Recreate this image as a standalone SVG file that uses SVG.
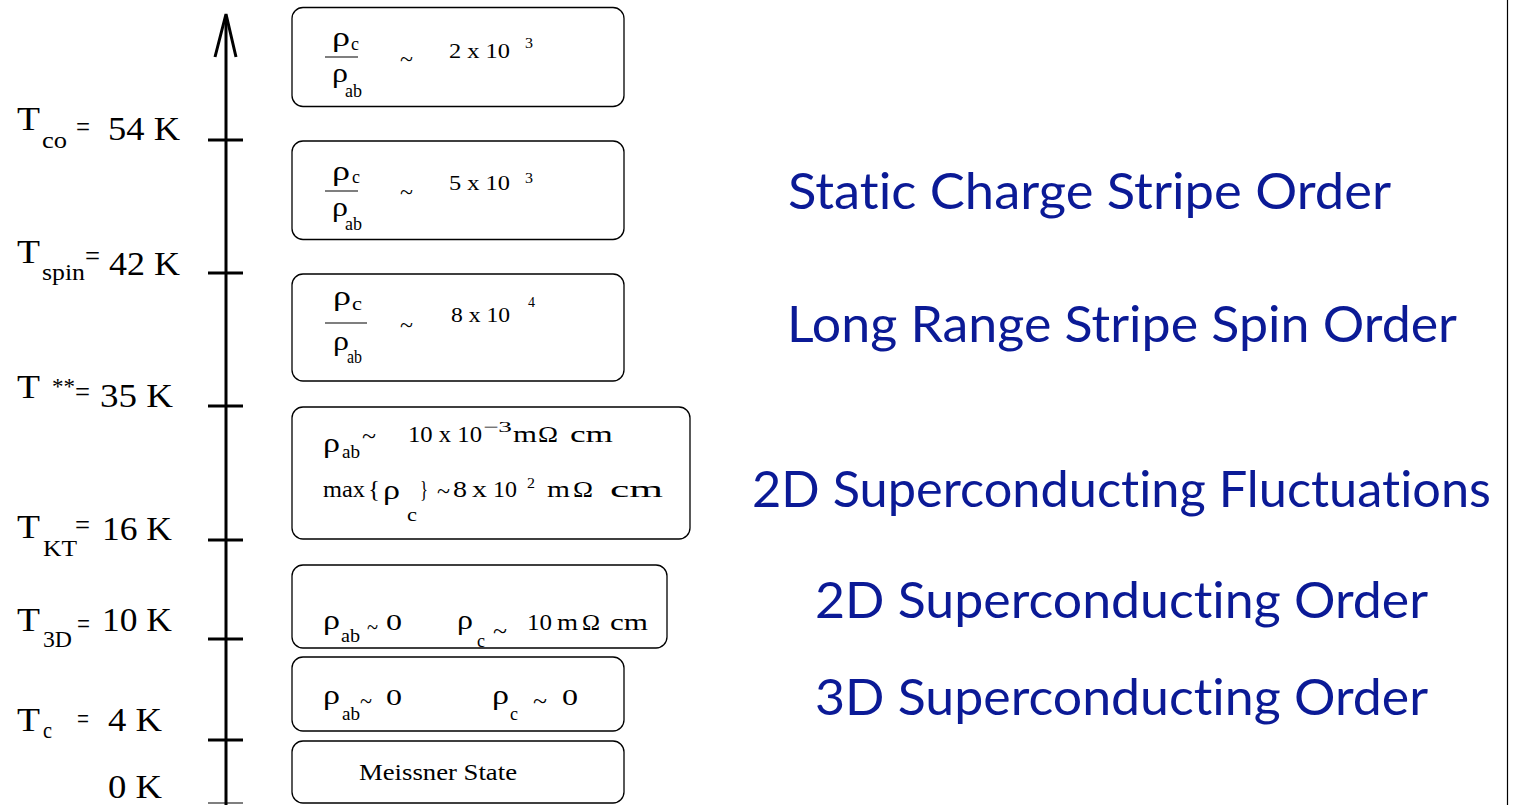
<svg xmlns="http://www.w3.org/2000/svg" width="1516" height="805" viewBox="0 0 1516 805">
<style>
text{font-family:"Liberation Serif","Times New Roman",serif;fill:#000}
.lab{font-size:34px}
.sub{font-size:24px}
.eq{font-size:30px}
.bx{font-size:21px}
.bl{font-size:24px}
.bs{font-size:19px}
.sp{font-size:15px}
.rho{font-size:27px}
.box{fill:#fff;stroke:#000;stroke-width:1.3}
.blue{font-family:"Lato","Open Sans",sans-serif;font-size:50px;fill:#0b1a96;font-variant-ligatures:none;font-feature-settings:"liga" 0}
</style>
<rect width="1516" height="805" fill="#fff"/>
<g id="axis" stroke="#000" fill="none">
  <line x1="226" y1="16" x2="226" y2="805" stroke-width="3"/>
  <polyline points="215,57 226,14 236,57" stroke-width="3"/>
  <g stroke-width="3">
    <line x1="208" y1="140" x2="243" y2="140"/>
    <line x1="208" y1="273" x2="243" y2="273"/>
    <line x1="208" y1="406" x2="243" y2="406"/>
    <line x1="208" y1="540" x2="243" y2="540"/>
    <line x1="208" y1="639" x2="243" y2="639"/>
    <line x1="208" y1="740" x2="243" y2="740"/>
  </g>
  <line x1="208" y1="803" x2="243" y2="803" stroke-width="1.2"/>
  <line x1="1507.5" y1="0" x2="1507.5" y2="805" stroke-width="1.2"/>
</g>
<g id="labels">
  <g id="t-co"><text class="lab" x="17" y="130" textLength="23" lengthAdjust="spacingAndGlyphs">T</text><text class="sub" x="42" y="148" textLength="25" lengthAdjust="spacingAndGlyphs">co</text><text class="eq" x="76" y="137" textLength="14" lengthAdjust="spacingAndGlyphs">=</text><text class="lab" x="108" y="140" textLength="72" lengthAdjust="spacingAndGlyphs">54 K</text></g>
  <g id="t-spin"><text class="lab" x="17" y="263" textLength="23" lengthAdjust="spacingAndGlyphs">T</text><text class="sub" x="42" y="280" textLength="43" lengthAdjust="spacingAndGlyphs">spin</text><text class="eq" x="85" y="266" textLength="15" lengthAdjust="spacingAndGlyphs">=</text><text class="lab" x="109" y="275" textLength="71" lengthAdjust="spacingAndGlyphs">42 K</text></g>
  <g id="t-ss"><text class="lab" x="17" y="398" textLength="23" lengthAdjust="spacingAndGlyphs">T</text><text class="sub" x="52" y="394" textLength="23" lengthAdjust="spacingAndGlyphs">**</text><text class="eq" x="75" y="402" textLength="15" lengthAdjust="spacingAndGlyphs">=</text><text class="lab" x="100" y="407" textLength="73" lengthAdjust="spacingAndGlyphs">35 K</text></g>
  <g id="t-kt"><text class="lab" x="17" y="538" textLength="23" lengthAdjust="spacingAndGlyphs">T</text><text class="sub" x="43" y="556" textLength="34" lengthAdjust="spacingAndGlyphs">KT</text><text class="eq" x="75" y="535" textLength="15" lengthAdjust="spacingAndGlyphs">=</text><text class="lab" x="102" y="540" textLength="70" lengthAdjust="spacingAndGlyphs">16 K</text></g>
  <g id="t-3d"><text class="lab" x="17" y="631" textLength="23" lengthAdjust="spacingAndGlyphs">T</text><text class="sub" x="43" y="647" textLength="29" lengthAdjust="spacingAndGlyphs">3D</text><text class="eq" x="77" y="634" textLength="13" lengthAdjust="spacingAndGlyphs">=</text><text class="lab" x="102" y="631" textLength="70" lengthAdjust="spacingAndGlyphs">10 K</text></g>
  <g id="t-c"><text class="lab" x="17" y="731" textLength="23" lengthAdjust="spacingAndGlyphs">T</text><text class="sub" x="43" y="738" textLength="9" lengthAdjust="spacingAndGlyphs">c</text><text class="eq" x="77" y="729" textLength="12" lengthAdjust="spacingAndGlyphs">=</text><text class="lab" x="108" y="731" textLength="54" lengthAdjust="spacingAndGlyphs">4 K</text></g>
  <g id="t-0"><text class="lab" x="108" y="798" textLength="54" lengthAdjust="spacingAndGlyphs">0 K</text></g>
</g>
<g id="box1">
  <rect class="box" x="292" y="7.5" width="332" height="99" rx="11"/>
  <text class="rho" x="332" y="46" textLength="18" lengthAdjust="spacingAndGlyphs">ρ</text>
  <text class="bs" x="351" y="50" textLength="8" lengthAdjust="spacingAndGlyphs">c</text>
  <line x1="325" y1="57" x2="358" y2="57" stroke="#000" stroke-width="1.2"/>
  <text class="rho" x="332" y="82" textLength="16" lengthAdjust="spacingAndGlyphs">ρ</text>
  <text class="bs" x="345" y="97" textLength="17" lengthAdjust="spacingAndGlyphs">ab</text>
  <text class="bx" x="400" y="66" textLength="13" lengthAdjust="spacingAndGlyphs">~</text>
  <text class="bx" x="449" y="58" textLength="61" lengthAdjust="spacingAndGlyphs">2 x 10</text>
  <text class="sp" x="525" y="48" textLength="8" lengthAdjust="spacingAndGlyphs">3</text>
</g>
<g id="box2">
  <rect class="box" x="292" y="141" width="332" height="98.5" rx="11"/>
  <text class="rho" x="332" y="180" textLength="18" lengthAdjust="spacingAndGlyphs">ρ</text>
  <text class="bs" x="352" y="183" textLength="8" lengthAdjust="spacingAndGlyphs">c</text>
  <line x1="325" y1="191" x2="358" y2="191" stroke="#000" stroke-width="1.2"/>
  <text class="rho" x="332" y="216" textLength="16" lengthAdjust="spacingAndGlyphs">ρ</text>
  <text class="bs" x="345" y="230" textLength="17" lengthAdjust="spacingAndGlyphs">ab</text>
  <text class="bx" x="400" y="199" textLength="13" lengthAdjust="spacingAndGlyphs">~</text>
  <text class="bx" x="449" y="190" textLength="61" lengthAdjust="spacingAndGlyphs">5 x 10</text>
  <text class="sp" x="525" y="183" textLength="8" lengthAdjust="spacingAndGlyphs">3</text>
</g>
<g id="box3">
  <rect class="box" x="292" y="274" width="332" height="107" rx="11"/>
  <text class="rho" x="333" y="305" textLength="18" lengthAdjust="spacingAndGlyphs">ρ</text>
  <text class="bs" x="352" y="310" textLength="10" lengthAdjust="spacingAndGlyphs">c</text>
  <line x1="325" y1="323" x2="367" y2="323" stroke="#000" stroke-width="1.2"/>
  <text class="rho" x="333" y="350" textLength="16" lengthAdjust="spacingAndGlyphs">ρ</text>
  <text class="bs" x="347" y="363" textLength="15" lengthAdjust="spacingAndGlyphs">ab</text>
  <text class="bx" x="400" y="332" textLength="13" lengthAdjust="spacingAndGlyphs">~</text>
  <text class="bx" x="451" y="322" textLength="59" lengthAdjust="spacingAndGlyphs">8 x 10</text>
  <text class="sp" x="528" y="307" textLength="7" lengthAdjust="spacingAndGlyphs">4</text>
</g>
<g id="box4">
  <rect class="box" x="292" y="407" width="398" height="132" rx="11"/>
  <text class="rho" x="323" y="452" textLength="17" lengthAdjust="spacingAndGlyphs">ρ</text>
  <text class="bs" x="342" y="458" textLength="18" lengthAdjust="spacingAndGlyphs">ab</text>
  <text class="bl" x="362" y="444" textLength="14" lengthAdjust="spacingAndGlyphs">~</text>
  <text class="bl" x="408" y="442" textLength="74" lengthAdjust="spacingAndGlyphs">10 x  10</text>
  <text class="sp" x="483" y="432" textLength="29" lengthAdjust="spacingAndGlyphs">−3</text>
  <text class="bl" x="513" y="442" textLength="24" lengthAdjust="spacingAndGlyphs">m</text>
  <text class="bl" x="538" y="442" textLength="20" lengthAdjust="spacingAndGlyphs">Ω</text>
  <text class="bl" x="570" y="442" textLength="43" lengthAdjust="spacingAndGlyphs">cm</text>
  <text class="bl" x="323" y="497" textLength="42" lengthAdjust="spacingAndGlyphs">max</text>
  <text class="bl" x="368" y="497" textLength="12" lengthAdjust="spacingAndGlyphs">{</text>
  <text class="rho" x="383" y="499" textLength="17" lengthAdjust="spacingAndGlyphs">ρ</text>
  <text class="bs" x="407" y="521" textLength="10" lengthAdjust="spacingAndGlyphs">c</text>
  <text class="bl" x="420" y="497" textLength="8" lengthAdjust="spacingAndGlyphs">}</text>
  <text class="bl" x="437" y="499" textLength="13" lengthAdjust="spacingAndGlyphs">~</text>
  <text class="bl" x="453" y="497" textLength="14" lengthAdjust="spacingAndGlyphs">8</text>
  <text class="bl" x="472" y="497" textLength="15" lengthAdjust="spacingAndGlyphs">x</text>
  <text class="bl" x="493" y="497" textLength="24" lengthAdjust="spacingAndGlyphs">10</text>
  <text class="sp" x="527" y="488" textLength="8" lengthAdjust="spacingAndGlyphs">2</text>
  <text class="bl" x="547" y="497" textLength="23" lengthAdjust="spacingAndGlyphs">m</text>
  <text class="bl" x="573" y="497" textLength="20" lengthAdjust="spacingAndGlyphs">Ω</text>
  <text class="bl" x="610" y="497" textLength="53" lengthAdjust="spacingAndGlyphs">cm</text>
</g>
<g id="box5">
  <rect class="box" x="292" y="565" width="375" height="83" rx="11"/>
  <text class="rho" x="323" y="629" textLength="17" lengthAdjust="spacingAndGlyphs">ρ</text>
  <text class="bs" x="341" y="642" textLength="19" lengthAdjust="spacingAndGlyphs">ab</text>
  <text class="bl" x="367" y="635" textLength="11" lengthAdjust="spacingAndGlyphs">~</text>
  <text class="bl" x="386" y="630" textLength="16" lengthAdjust="spacingAndGlyphs">0</text>
  <text class="rho" x="457" y="629" textLength="16" lengthAdjust="spacingAndGlyphs">ρ</text>
  <text class="bs" x="477" y="647" textLength="8" lengthAdjust="spacingAndGlyphs">c</text>
  <text class="bl" x="493" y="639" textLength="14" lengthAdjust="spacingAndGlyphs">~</text>
  <text class="bl" x="527" y="630" textLength="25" lengthAdjust="spacingAndGlyphs">10</text>
  <text class="bl" x="557" y="630" textLength="21" lengthAdjust="spacingAndGlyphs">m</text>
  <text class="bl" x="582" y="630" textLength="18" lengthAdjust="spacingAndGlyphs">Ω</text>
  <text class="bl" x="610" y="630" textLength="38" lengthAdjust="spacingAndGlyphs">cm</text>
</g>
<g id="box6">
  <rect class="box" x="292" y="657" width="332" height="74" rx="11"/>
  <text class="rho" x="323" y="704" textLength="17" lengthAdjust="spacingAndGlyphs">ρ</text>
  <text class="bs" x="342" y="720" textLength="18" lengthAdjust="spacingAndGlyphs">ab</text>
  <text class="bl" x="360" y="709" textLength="12" lengthAdjust="spacingAndGlyphs">~</text>
  <text class="bl" x="386" y="705" textLength="16" lengthAdjust="spacingAndGlyphs">0</text>
  <text class="rho" x="492" y="704" textLength="17" lengthAdjust="spacingAndGlyphs">ρ</text>
  <text class="bs" x="510" y="720" textLength="8" lengthAdjust="spacingAndGlyphs">c</text>
  <text class="bl" x="533" y="709" textLength="14" lengthAdjust="spacingAndGlyphs">~</text>
  <text class="bl" x="562" y="705" textLength="16" lengthAdjust="spacingAndGlyphs">0</text>
</g>
<g id="box7">
  <rect class="box" x="292" y="741" width="332" height="62" rx="11"/>
  <text class="bl" x="359" y="780" textLength="158" lengthAdjust="spacingAndGlyphs">Meissner  State</text>
</g>
<g id="phases">
  <text class="blue" x="788" y="209" textLength="603" lengthAdjust="spacingAndGlyphs">Static Charge Stripe Order</text>
  <text class="blue" x="787" y="342" textLength="670" lengthAdjust="spacingAndGlyphs">Long Range Stripe Spin Order</text>
  <text class="blue" x="752" y="507" textLength="739" lengthAdjust="spacingAndGlyphs">2D Superconducting Fluctuations</text>
  <text class="blue" x="815" y="618" textLength="613" lengthAdjust="spacingAndGlyphs">2D Superconducting Order</text>
  <text class="blue" x="815" y="715" textLength="613" lengthAdjust="spacingAndGlyphs">3D Superconducting Order</text>
</g>
</svg>
